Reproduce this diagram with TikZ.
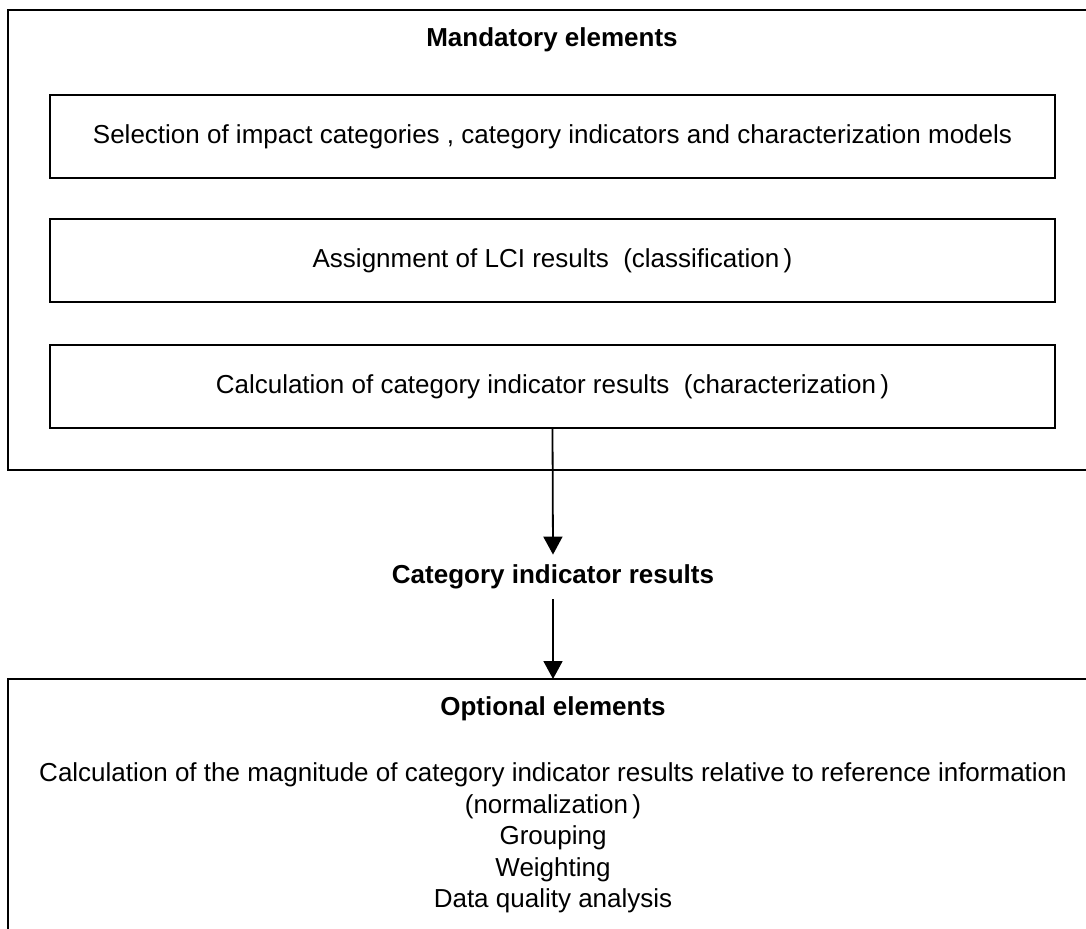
\documentclass[tikz,border=0pt]{standalone}
\usepackage{fontspec}
\setmainfont{Liberation Sans}
\usetikzlibrary{arrows.meta,positioning}

\tikzset{
  frame/.style={line width=1pt},
  stepbox/.style={draw, line width=1pt, minimum width=502.5pt, minimum height=41.5pt,
    inner sep=0pt, align=center, font=\fontsize{13}{15.75}\selectfont},
  heading/.style={inner sep=0pt, font=\fontsize{13}{15.75}\selectfont\bfseries},
  plain/.style={inner sep=0pt, align=center, font=\fontsize{13}{15.75}\selectfont},
  flow/.style={line width=0.9pt, -{Triangle[width=9.5pt,length=9pt]}}
}

\begin{document}
\begin{tikzpicture}[x=0.5pt, y=-0.5pt]
    % Bildbereich
    \useasboundingbox (0,0) rectangle (1086,929);
    \clip (0,0) rectangle (1086,929);

    % Rahmen oben (Pflichtbestandteile)
    \draw[frame] (1100,10) -- (8,10) -- (8,470) -- (1100,470);
    \node[heading] (mand) at (552,40) {Mandatory elements};

    \node[stepbox] (sel) at (552.5,136.5)
        {\raisebox{-1pt}{Selection of impact categories , category indicators and characterization models}};
    \node[stepbox] (assign) at (552.5,260.5)
        {\raisebox{-1pt}{Assignment of LCI results \ (classification\,)}};
    \node[stepbox] (calc) at (552.5,386.5)
        {\raisebox{-1pt}{Calculation of category indicator results \ (characterization\,)}};

    % Zwischenergebnis
    \node[heading, minimum height=22pt] (cir) at (553,577) {Category indicator results};

    % Rahmen unten (optionale Bestandteile)
    \coordinate (optop) at (553,679);
    \draw[frame] (1100,679) -- (8,679) -- (8,940);
    \node[heading] (opt) at (553,709) {Optional elements};
    \node[plain] (optlist) at (553,838)
        {Calculation of the magnitude of category indicator results relative to reference information\\
         (normalization\,)\\
         Grouping\\
         Weighting\\
         Data quality analysis};

    % Pfeile
    \draw[flow] (calc.south) -- (cir.north);
    \draw[flow] (cir.south) -- (optop);
\end{tikzpicture}
\end{document}
